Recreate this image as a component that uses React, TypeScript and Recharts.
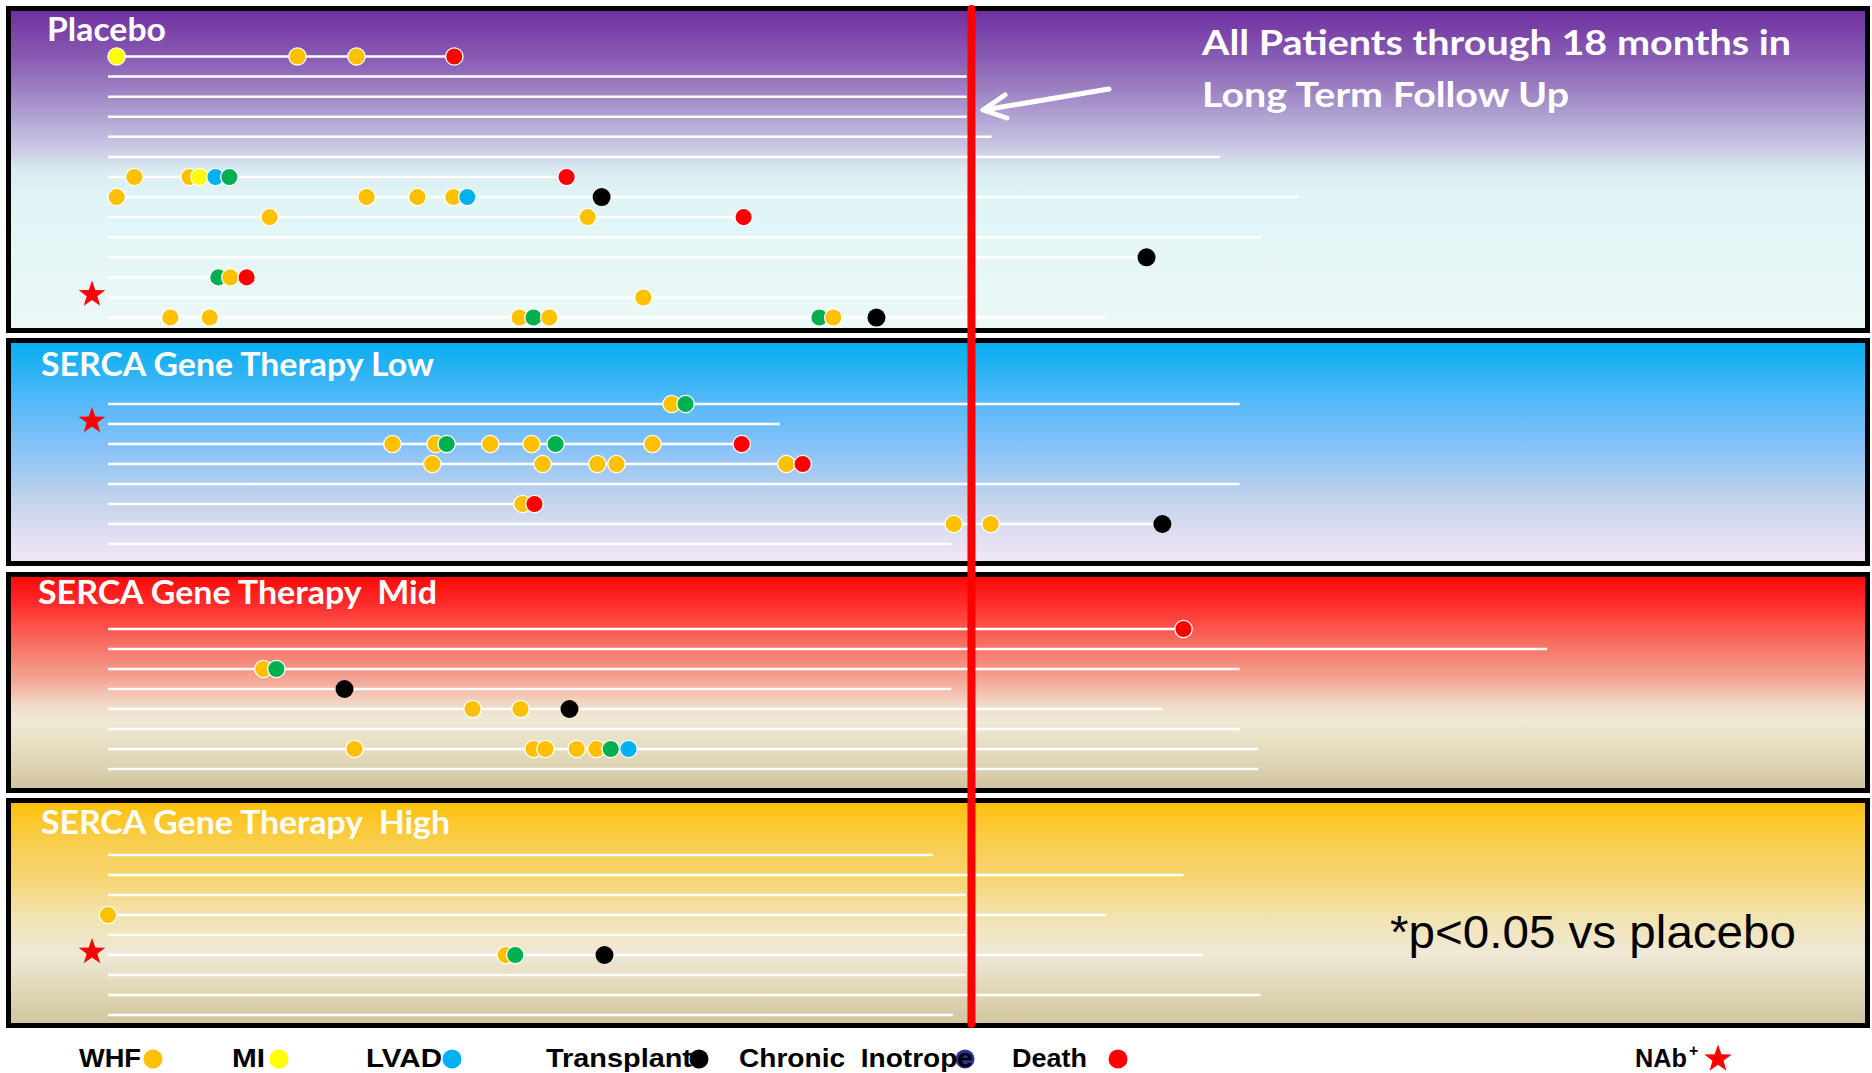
import React from 'react';
import { ComposedChart, Scatter, XAxis, YAxis } from 'recharts';

// follow-up in months; each panel = one treatment arm, one row per patient
const PLACEBO_END = [7.22, 17.9, 17.9, 17.9, 18.42, 23.19, 9.56, 24.82, 13.25, 24.03, 21.65, 2.89, 17.9, 20.81];
const PLACEBO_EVENTS: [number, number, string][] = [
    [0, 0.18, 'MI'], [0, 3.95, 'WHF'], [0, 5.18, 'WHF'], [0, 7.22, 'Death'],
    [6, 0.55, 'WHF'], [6, 1.7, 'WHF'], [6, 1.91, 'MI'], [6, 2.24, 'LVAD'], [6, 2.53, 'Other'], [6, 9.56, 'Death'],
    [7, 0.18, 'WHF'], [7, 5.39, 'WHF'], [7, 6.45, 'WHF'], [7, 7.2, 'WHF'], [7, 7.49, 'LVAD'], [7, 10.29, 'Transplant'],
    [8, 3.37, 'WHF'], [8, 10.0, 'WHF'], [8, 13.25, 'Death'],
    [10, 21.65, 'Transplant'],
    [11, 2.3, 'Other'], [11, 2.55, 'WHF'], [11, 2.89, 'Death'],
    [12, 11.16, 'WHF'],
    [13, 1.3, 'WHF'], [13, 2.12, 'WHF'], [13, 8.58, 'WHF'], [13, 8.87, 'Other'], [13, 9.2, 'WHF'],
    [13, 14.83, 'Other'], [13, 15.12, 'WHF'], [13, 16.02, 'Transplant'],
];
const PLACEBO_NAB = [12];

const LOW_END = [23.59, 14.0, 13.21, 14.48, 23.59, 8.89, 21.98, 17.58];
const LOW_EVENTS: [number, number, string][] = [
    [0, 11.75, 'WHF'], [0, 12.04, 'Other'],
    [2, 5.93, 'WHF'], [2, 6.83, 'WHF'], [2, 7.06, 'Other'], [2, 7.97, 'WHF'], [2, 8.83, 'WHF'], [2, 9.33, 'Other'],
    [2, 11.35, 'WHF'], [2, 13.21, 'Death'],
    [3, 6.76, 'WHF'], [3, 9.06, 'WHF'], [3, 10.2, 'WHF'], [3, 10.6, 'WHF'], [3, 14.14, 'WHF'], [3, 14.48, 'Death'],
    [5, 8.64, 'WHF'], [5, 8.89, 'Death'],
    [6, 17.63, 'WHF'], [6, 18.4, 'WHF'], [6, 21.98, 'Transplant'],
];
const LOW_NAB = [1];

const MID_END = [22.42, 30.0, 23.59, 17.58, 21.98, 23.59, 23.98, 23.98];
const MID_EVENTS: [number, number, string][] = [
    [0, 22.42, 'Death'],
    [2, 3.24, 'WHF'], [2, 3.51, 'Other'],
    [3, 4.93, 'Transplant'],
    [4, 7.6, 'WHF'], [4, 8.6, 'WHF'], [4, 9.62, 'Transplant'],
    [6, 5.14, 'WHF'], [6, 8.87, 'WHF'], [6, 9.12, 'WHF'], [6, 9.77, 'WHF'], [6, 10.18, 'WHF'], [6, 10.48, 'Other'], [6, 10.85, 'LVAD'],
];
const MID_NAB: number[] = [];

const HIGH_END = [17.19, 22.42, 17.88, 20.8, 17.88, 22.82, 17.88, 24.03, 17.61];
const HIGH_EVENTS: [number, number, string][] = [
    [3, 0, 'WHF'],
    [5, 8.29, 'WHF'], [5, 8.49, 'Other'], [5, 10.35, 'Transplant'],
];
const HIGH_NAB = [5];

const CUTOFF_MONTHS = 18;

const GROUPS = [
    { name: 'Placebo', ends: PLACEBO_END, events: PLACEBO_EVENTS, nab: PLACEBO_NAB },
    { name: 'SERCA Gene Therapy Low', ends: LOW_END, events: LOW_EVENTS, nab: LOW_NAB },
    { name: 'SERCA Gene Therapy  Mid', ends: MID_END, events: MID_EVENTS, nab: MID_NAB },
    { name: 'SERCA Gene Therapy  High', ends: HIGH_END, events: HIGH_EVENTS, nab: HIGH_NAB },
];

const EVENT_COLORS: Record<string, string> = {
    WHF: '#FFC000', MI: '#FFFF00', LVAD: '#00B0F0', Other: '#00B050',
    Transplant: '#000000', Inotrope: '#2E3192', Death: '#FF0000',
};

// ---- layout (pixels) ----
const W = 1872, H = 1073;
const X0_PX = 108, PX_PER_MONTH = 47.97;
const X_DOMAIN = [-X0_PX / PX_PER_MONTH, (W - X0_PX) / PX_PER_MONTH];
const STAR_X = (92 - X0_PX) / PX_PER_MONTH;

const PANEL_LAYOUT = [
    { top: 6, bottom: 333, row0: 56.5, gap: 20.08, titleX: 47, titleY: 41, titleW: 119,
        bg: 'linear-gradient(to bottom, #6F30A0 0%, #8B60B5 16%, #A895CB 30%, #BDB5DC 38%, #CCCCE6 44%, #D8EAF0 50%, #DFF4F6 57%, #ECF8F8 100%)' },
    { top: 338, bottom: 566, row0: 404, gap: 20, titleX: 41, titleY: 376, titleW: 393,
        bg: 'linear-gradient(to bottom, #06AEF0 0%, #4FB8F8 25%, #80C0F8 45%, #C3D3EC 72%, #F3E7F6 100%)' },
    { top: 572, bottom: 793, row0: 629, gap: 20, titleX: 38, titleY: 604, titleW: 399,
        bg: 'linear-gradient(to bottom, #FF0808 0%, #FF2A2A 12%, #F86A5E 30%, #F4A394 48%, #F1D8C5 60%, #EFEAD6 68%, #E3DABC 84%, #D2C59F 100%)' },
    { top: 798, bottom: 1028, row0: 855, gap: 20, titleX: 41, titleY: 834, titleW: 409,
        bg: 'linear-gradient(to bottom, #FFC10C 0%, #F9CE4E 18%, #F6D572 34%, #F2E3AE 51%, #EFE9D6 68%, #E0D6B6 86%, #D2C59F 100%)' },
];

const LEGEND = [
    { label: 'WHF', type: 'WHF', x: 79, w: 62, dot: 153 },
    { label: 'MI', type: 'MI', x: 232, w: 33, dot: 279 },
    { label: 'LVAD', type: 'LVAD', x: 366, w: 76, dot: 452 },
    { label: 'Transplant', type: 'Transplant', x: 546, w: 146, dot: 699 },
    { label: 'Chronic  Inotrope', type: 'Inotrope', x: 739, w: 234, dot: 965 },
    { label: 'Death', type: 'Death', x: 1012, w: 75, dot: 1118 },
];
const LEGEND_BASE = 1067;

function starPoints(cx: number, cy: number, R: number, r: number) {
    const pts: string[] = [];
    for (let i = 0; i < 10; i++) {
        const rad = i % 2 === 0 ? R : r;
        const a = -Math.PI / 2 + (i * Math.PI) / 5;
        pts.push(`${cx + rad * Math.cos(a)},${cy + rad * Math.sin(a)}`);
    }
    return pts.join(' ');
}

const EventDot = (p: any) => {
    const type = p.payload?.type ?? p.type;
    const black = type === 'Transplant';
    return <circle cx={p.cx} cy={p.cy} r={black ? 9 : 8.7} fill={EVENT_COLORS[type]}
        stroke={black ? 'none' : '#fff'} strokeWidth={1.3} />;
};
const StarShape = (p: any) => <polygon points={starPoints(p.cx, p.cy, 14, 5.6)} fill="#FF0000" />;
const NoShape = () => <g />;

export default function App() {
    const rowLines: { id: string; data: { x: number; y: number }[] }[] = [];
    const events: { x: number; y: number; type: string }[] = [];
    const stars: { x: number; y: number }[] = [];
    GROUPS.forEach((g, gi) => {
        const L = PANEL_LAYOUT[gi];
        const rowY = (r: number) => L.row0 + r * L.gap;
        g.ends.forEach((end, r) => rowLines.push({ id: `${gi}-${r}`, data: [{ x: 0, y: rowY(r) }, { x: end, y: rowY(r) }] }));
        g.events.forEach(([r, t, type]) => events.push({ x: t, y: rowY(r), type }));
        g.nab.forEach((r) => stars.push({ x: STAR_X, y: rowY(r) - 3 }));
    });

    return (
        <div style={{ position: 'absolute', left: 0, top: 0, width: W, height: H, background: '#fff', overflow: 'hidden' }}>
            {PANEL_LAYOUT.map((p, i) => (
                <div key={i} style={{
                    position: 'absolute', left: 6, top: p.top, width: W - 8, height: p.bottom - p.top,
                    border: '5px solid #000', boxSizing: 'border-box', background: p.bg,
                }} />
            ))}
            <div style={{ position: 'absolute', left: 0, top: 0 }}>
                <ComposedChart width={W} height={H} margin={{ top: 0, right: 0, bottom: 0, left: 0 }}>
                    <XAxis dataKey="x" type="number" domain={X_DOMAIN} allowDataOverflow hide />
                    <YAxis dataKey="y" type="number" domain={[0, H]} reversed allowDataOverflow hide />
                    {rowLines.map((r) => (
                        <Scatter key={r.id} data={r.data} line={{ stroke: '#FFFFFF', strokeWidth: 2.5 }}
                            shape={NoShape} legendType="none" isAnimationActive={false} />
                    ))}
                    <Scatter data={events} shape={EventDot} isAnimationActive={false} />
                    <Scatter data={stars} shape={StarShape} isAnimationActive={false} />
                    <Scatter data={[{ x: CUTOFF_MONTHS, y: 9 }, { x: CUTOFF_MONTHS, y: 1024 }]}
                        line={{ stroke: '#FF0000', strokeWidth: 8, strokeLinecap: 'round' }}
                        shape={NoShape} isAnimationActive={false} />
                </ComposedChart>
            </div>
            <svg width={W} height={H} style={{ position: 'absolute', left: 0, top: 0, pointerEvents: 'none' }}>
                {GROUPS.map((g, i) => {
                    const L = PANEL_LAYOUT[i];
                    return (
                        <text key={g.name} x={L.titleX} y={L.titleY} fill="#fff" fontFamily="Lato, 'Open Sans', sans-serif"
                            fontWeight={700} fontSize={32} textLength={L.titleW} lengthAdjust="spacingAndGlyphs"
                            style={{ whiteSpace: 'pre' }}>{g.name}</text>
                    );
                })}
                <text x={1202} y={55} fill="#fff" fontFamily="Lato, sans-serif" fontWeight={700} fontSize={35}
                    textLength={589} lengthAdjust="spacingAndGlyphs">All Patients through 18 months in</text>
                <text x={1202} y={107} fill="#fff" fontFamily="Lato, sans-serif" fontWeight={700} fontSize={35}
                    textLength={367} lengthAdjust="spacingAndGlyphs">Long Term Follow Up</text>
                <g stroke="#fff" strokeWidth={5} strokeLinecap="round" strokeLinejoin="round" fill="none">
                    <line x1={1109} y1={89} x2={984} y2={110} />
                    <polyline points="1005,95 983,110 1007,118" />
                </g>
                <text x={1390} y={948} fill="#000" fontFamily="'Liberation Sans', Arial, sans-serif" fontSize={46}
                    textLength={406} lengthAdjust="spacingAndGlyphs">*p&lt;0.05 vs placebo</text>

                {LEGEND.map((l) => (
                    <g key={l.label}>
                        <circle cx={l.dot} cy={1059} r={9.5} fill={EVENT_COLORS[l.type]} />
                        <text x={l.x} y={LEGEND_BASE} fontFamily="'Liberation Sans', Arial, sans-serif" fontWeight={700}
                            fontSize={26} textLength={l.w} lengthAdjust="spacingAndGlyphs" style={{ whiteSpace: 'pre' }}>
                            {l.label}
                        </text>
                    </g>
                ))}
                <text x={1635} y={LEGEND_BASE} fontFamily="'Liberation Sans', Arial, sans-serif" fontWeight={700} fontSize={26}
                    textLength={52} lengthAdjust="spacingAndGlyphs">NAb</text>
                <text x={1689} y={LEGEND_BASE - 11} fontFamily="'Liberation Sans', Arial, sans-serif" fontWeight={700} fontSize={16}>+</text>
                <polygon points={starPoints(1718, 1059, 14.5, 5.8)} fill="#FF0000" />
            </svg>
        </div>
    );
}
